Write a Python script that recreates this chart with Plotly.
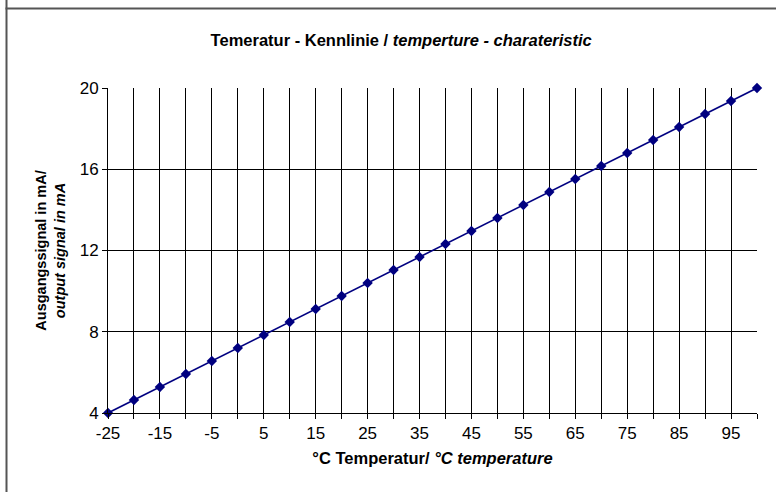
import plotly.graph_objects as go

temperature = [-25, -20, -15, -10, -5, 0, 5, 10, 15, 20, 25, 30, 35, 40, 45,
               50, 55, 60, 65, 70, 75, 80, 85, 90, 95, 100]
signal_mA = [4.00, 4.64, 5.28, 5.92, 6.56, 7.20, 7.84, 8.48, 9.12, 9.76, 10.40,
             11.04, 11.68, 12.32, 12.96, 13.60, 14.24, 14.88, 15.52, 16.16,
             16.80, 17.44, 18.08, 18.72, 19.36, 20.00]
x_tick_labels = [-25, -15, -5, 5, 15, 25, 35, 45, 55, 65, 75, 85, 95]
y_tick_labels = [4, 8, 12, 16, 20]

FONT = "Liberation Sans, Arial, sans-serif"

fig = go.Figure()
fig.add_trace(go.Scatter(
    x=temperature, y=signal_mA, mode="lines+markers",
    line=dict(color="#000080", width=1.6),
    marker=dict(symbol="diamond", size=8, color="#000080"),
    showlegend=False, cliponaxis=False,
))

fig.update_layout(
    width=776, height=492,
    margin=dict(l=108, r=19, t=88, b=79),
    paper_bgcolor="white", plot_bgcolor="white",
    font=dict(family=FONT, color="black", size=14),
    title=dict(
        text="<b>Temeratur - Kennlinie / <i>temperture - charateristic</i></b>",
        x=0.517, xanchor="center", y=1 - 40 / 492, yanchor="middle",
        font=dict(size=16.5, family=FONT),
    ),
)

fig.update_xaxes(
    range=[-25, 100], tickmode="array", tickvals=x_tick_labels,
    ticktext=[str(v) for v in x_tick_labels],
    ticks="outside", ticklen=5, tickcolor="black",
    showgrid=False, showline=True, linecolor="black", linewidth=1,
    zeroline=False,
    tickfont=dict(size=17, family=FONT),
    minor=dict(tickmode="array", tickvals=temperature, showgrid=True,
               gridcolor="black", gridwidth=1, ticks="outside", ticklen=5,
               tickcolor="black"),
    title=dict(text="<b>°C Temperatur/ <i>°C temperature</i></b>",
               font=dict(size=16.5, family=FONT), standoff=10),
)
fig.update_yaxes(
    range=[4, 20], tickmode="array", tickvals=y_tick_labels,
    ticks="outside", ticklen=5, tickcolor="black",
    showgrid=True, gridcolor="black", gridwidth=1,
    showline=True, linecolor="black", linewidth=1, zeroline=False,
    tickfont=dict(size=17, family=FONT),
    title=dict(text="<b>Ausgangssignal in mA/</b><br><b><i>output signal in mA</i></b>",
               font=dict(size=14.5, family=FONT), standoff=10),
)

# outer frame (left border and top border)
W, H = 776.0, 492.0
L, R, T, B = 108.0, 19.0, 88.0, 79.0
pw, ph = W - L - R, H - T - B

def px_x(px):
    return (px - L) / pw

def px_y(py):
    return (H - B - py) / ph

fig.add_shape(type="rect", xref="paper", yref="paper",
              x0=px_x(5.5), x1=px_x(7.5), y0=px_y(0), y1=px_y(H),
              fillcolor="#555555", line=dict(width=0))
fig.add_shape(type="rect", xref="paper", yref="paper",
              x0=px_x(5.5), x1=px_x(W), y0=px_y(7.5), y1=px_y(9.5),
              fillcolor="#555555", line=dict(width=0))

fig.write_html("out.html", config={"displayModeBar": False},
               post_script="document.body.style.margin='0';document.body.style.overflow='hidden';")
